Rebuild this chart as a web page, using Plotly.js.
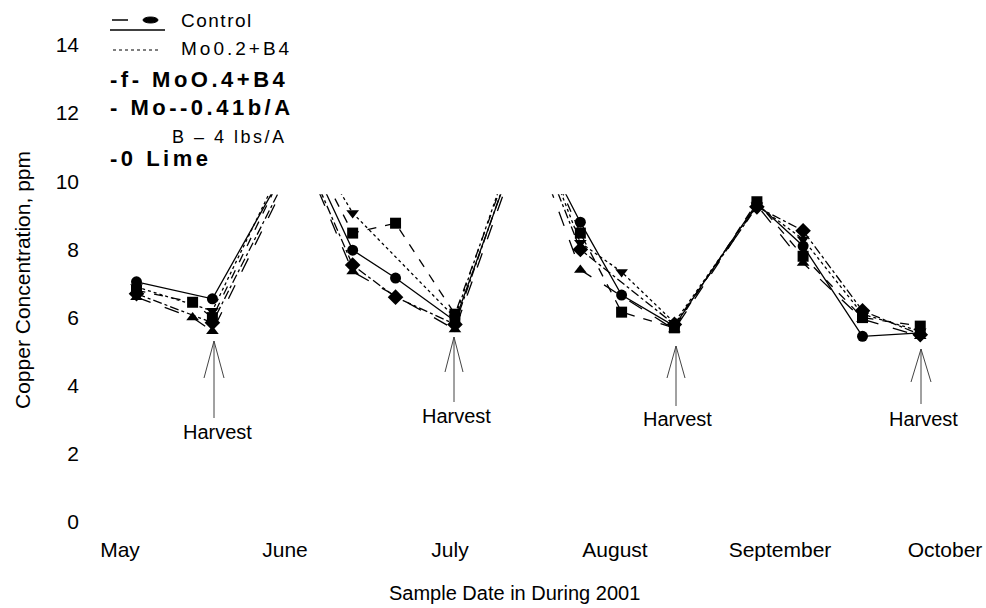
<!DOCTYPE html>
<html>
<head>
<meta charset="utf-8">
<script src="https://cdn.plot.ly/plotly-3.0.1.min.js"></script>
<style>html,body{margin:0;padding:0;background:#fff;}#chart{width:986px;height:608px;}</style>
</head>
<body>
<div id="chart"></div>
<script>
// ---- data (x in month units: 0 = May, 1 = June, ...) ----
const months = [0.10, 0.44, 0.56, 1.10, 1.41, 1.67, 2.03, 2.47, 2.79, 3.04, 3.36, 3.86, 4.14, 4.50, 4.85];
const monthTickVals = [0, 1, 2, 3, 4, 5];
const monthLabels = ['May', 'June', 'July', 'August', 'September', 'October'];
const yTickVals = [0, 2, 4, 6, 8, 10, 12, 14];

const control   = [7.05, null, 6.55, 11.2, 7.98, 7.16, 5.90, 11.8, 8.80, 6.66, 5.75, 9.35, 8.10, 5.45, 5.55];
const mo02B4    = [6.90, null, 6.20, 11.6, 9.07, null, 6.00, 12.2, 8.20, 7.34, 5.85, 9.30, 8.30, 6.10, 5.60];
const mo04B4    = [6.80, 6.45, 6.00, 11.4, 8.48, 8.77, 6.10, 12.0, 8.48, 6.16, 5.70, 9.40, 7.80, 6.00, 5.75];
const mo04lbB4  = [6.60, 6.00, 5.60, 10.9, 7.35, null, 5.65, 11.6, 7.40, null, 5.65, 9.30, 7.60, 5.95, 5.45];
const lime      = [6.70, null, 5.85, 11.0, 7.54, 6.60, 5.80, 11.9, 8.00, null, 5.80, 9.25, 8.55, 6.20, 5.50];

const seriesNames = ['Control', 'Mo0.2+B4', 'MoO.4+B4', 'Mo 0.4 lb/A B 4 lbs/A', 'Lime'];
const harvestLabel = 'Harvest';

// ---- layout helpers (pixel -> paper) ----
const L = 100, R = 16, T = 30, B = 73, W = 986, H = 608;
const PW = W - L - R, PH = H - T - B;
const PX = x => (x - L) / PW;
const PY = y => (H - B - y) / PH;
const FONT = 'Liberation Sans, Arial, sans-serif';

const allSeries = [control, mo02B4, mo04B4, mo04lbB4, lime];
const symbols = ['circle', 'triangle-down', 'square', 'triangle-up', 'diamond'];
const dashes = ['solid', 'dot', 'dash', 'longdash', 'dashdot'];
const sizes = [11, 11, 11, 11, 12];

const traces = allSeries.map((ys, i) => ({
  x: months, y: ys, name: seriesNames[i], type: 'scatter', mode: 'lines+markers',
  connectgaps: true, showlegend: false,
  line: {color: '#000', width: 1.3, dash: dashes[i]},
  marker: {symbol: symbols[i], size: sizes[i], color: '#000'}
}));

const shapes = [];
// white band hiding the top of the peaks (as in the reference)
shapes.push({type: 'rect', xref: 'paper', yref: 'y', x0: 0, x1: 1, y0: 9.62, y1: 14.44,
  fillcolor: '#fff', line: {width: 0}, layer: 'above'});

// harvest arrows (pixel geometry)
const arrows = [
  {x: 214, tip: 341, wing: 378, spread: 10, bot: 418},
  {x: 454, tip: 337, wing: 372, spread: 9, bot: 402},
  {x: 676, tip: 346, wing: 378, spread: 9, bot: 406},
  {x: 921, tip: 349, wing: 382, spread: 10, bot: 404}
];
arrows.forEach(a => {
  const p = `M${PX(a.x)},${PY(a.bot)} L${PX(a.x)},${PY(a.tip)} ` +
            `M${PX(a.x - a.spread)},${PY(a.wing)} L${PX(a.x)},${PY(a.tip)} L${PX(a.x + a.spread)},${PY(a.wing)}`;
  shapes.push({type: 'path', xref: 'paper', yref: 'paper', path: p, line: {color: '#444', width: 1}, layer: 'above'});
});

// legend symbols
shapes.push({type: 'line', xref: 'paper', yref: 'paper', x0: PX(112), x1: PX(128), y0: PY(20), y1: PY(20), line: {color: '#000', width: 1.5}, layer: 'above'});
shapes.push({type: 'circle', xref: 'paper', yref: 'paper', x0: PX(143), x1: PX(158), y0: PY(23), y1: PY(17), fillcolor: '#000', line: {color: '#000', width: 1}, layer: 'above'});
shapes.push({type: 'line', xref: 'paper', yref: 'paper', x0: PX(110), x1: PX(165), y0: PY(30), y1: PY(30), line: {color: '#000', width: 1.5}, layer: 'above'});
shapes.push({type: 'line', xref: 'paper', yref: 'paper', x0: PX(113), x1: PX(159), y0: PY(50), y1: PY(50), line: {color: '#000', width: 1.2, dash: 'dot'}, layer: 'above'});

const ann = [];
function txt(text, x, y, size, opts) {
  ann.push(Object.assign({xref: 'paper', yref: 'paper', x: PX(x), y: PY(y), text: text, showarrow: false,
    xanchor: 'left', yanchor: 'middle', font: {family: FONT, size: size, color: '#000'}}, opts || {}));
}
const sp = (s, n) => `<span style="letter-spacing:${n}px">${s}</span>`;
txt(sp('Control', 1.5), 179, 21, 19);
txt(sp('Mo0.2+B4', 3), 179, 48, 19);
txt(sp('<b>-f- MoO.4+B4</b>', 3.5), 108, 80, 22);
txt(sp('<b>- Mo--0.41b/A</b>', 3.5), 108, 107, 22);
txt(sp('B – 4 lbs/A', 2.5), 170, 137, 18);
txt(sp('<b>-0 Lime</b>', 3.5), 108, 158, 22);

const harvestTextPos = [[217, 432], [456, 416], [677, 419], [923, 419]];
harvestTextPos.forEach(p => txt(harvestLabel, p[0], p[1], 20, {xanchor: 'center'}));

// axis titles
txt('Copper Concentration, ppm', 22, 280, 21, {xanchor: 'center', textangle: -90});
txt('Sample Date in During 2001', 514, 593, 20, {xanchor: 'center'});

const layout = {
  width: W, height: H,
  margin: {l: L, r: R, t: T, b: B, pad: 0},
  paper_bgcolor: '#fff', plot_bgcolor: '#fff',
  font: {family: FONT, size: 20, color: '#000'},
  showlegend: false,
  xaxis: {range: [(L - 120) / 165, (W - R - 120) / 165], tickvals: monthTickVals, ticktext: monthLabels,
    showgrid: false, zeroline: false, showline: false, ticks: '', tickfont: {size: 21, family: FONT}},
  yaxis: {range: [-0.38, 14.44], tickvals: yTickVals, ticktext: yTickVals.map(String),
    showgrid: false, zeroline: false, showline: false, ticks: '', ticklabelstandoff: 20,
    tickfont: {size: 21, family: FONT}},
  shapes: shapes,
  annotations: ann
};

Plotly.newPlot('chart', traces, layout, {staticPlot: true, displayModeBar: false});
</script>
</body>
</html>
